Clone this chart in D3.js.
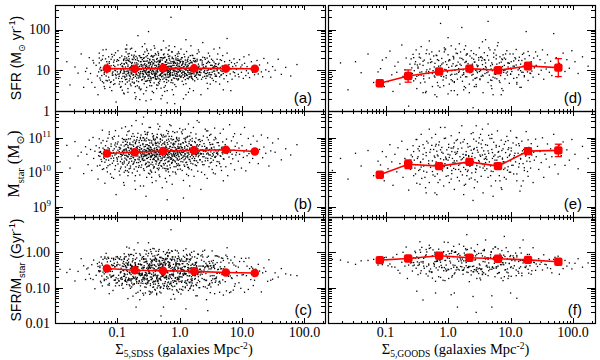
<!DOCTYPE html>
<html><head><meta charset="utf-8">
<script src="https://cdn.jsdelivr.net/npm/d3@7"></script>
<style>body{margin:0;background:#fff}</style>
</head><body>
<svg id="chart" width="600" height="360"></svg>
<script>
// ---------------- DATA ----------------
// Galaxies, values are log10 x 100: "logSigma5 logMstar logSFR"
const sdssGalaxies = `
-192 1030 82, -181 1078 121, -176 1012 64, -168 1089 108, -163 1047 93, -158 1058 140, -154 996 58, -151 1074 97,
-149 1052 105, -147 1022 78, -145 1093 131, -143 1066 92, -141 1005 70, -139 1101 124, -138 1040 118, -136 1061 58, -134 1077 112, -132 1018 86, -131 980 40, -129 1097 142, -128 1046 103, -127 1058 76, -125 1031 100, -124 1122 127, -123 1070 150, -122 1010 69, -121 1055 94, -120 968 55,
-119 1063 106, -118 1036 86, -117 1090 121, -116 1001 74, -115 1071 98, -114 1050 133, -113 1110 117, -112 1022 58, -111 1056 102, -110 1075 127, -109 985 50, -108 1047 93, -107 1096 88, -106 1033 112, -105 1068 137, -104 1008 67, -103 1121 143, -102 1053 81, -101 1042 104, -100 1082 96, -99 1024 90, -98 1105 124, -97 1060 66, -96 992 72, -95 1070 114, -94 1045 100, -93 1128 135, -92 1027 51, -91 1059 108, -91 1087 85, -90 970 44, -118 1054 151, -115 1019 105, -113 1064 76, -110 1040 72, -108 1100 133, -106 1057 120, -104 1079 100, -102 935 22, -100 1038 126, -97 1072 91, -95 1010 97, -93 1051 80, -92 1098 110, -90 1064 124, -94 1015 60,
-89 1066 98, -89 1032 115, -88 1095 133, -88 1049 85, -87 1005 66, -87 1080 104, -86 1057 145, -86 1038 90, -85 1108 117, -85 1062 78, -84 1021 98, -84 1087 125, -83 1046 109, -83 990 55, -82 1071 94, -82 1053 134, -81 1120 128, -81 1030 74, -80 1058 101, -80 1081 86, -79 1012 106, -79 1097 152, -78 1054 91, -78 1040 62, -77 1135 137, -77 1067 112, -76 998 71, -76 1061 119, -75 1088 96, -75 1044 126, -74 1026 82, -74 1075 103, -73 1059 70, -73 1104 130, -72 975 45, -72 1051 95, -71 1083 146, -71 1036 101, -70 1064 89, -70 1016 113, -69 1094 118, -69 1055 81, -68 1003 62, -68 1070 125, -67 1047 106, -67 1113 100, -66 1028 94, -66 1060 72, -65 1086 136, -65 1042 84, -64 992 88, -64 1072 110, -63 1055 121, -63 1101 93, -62 1014 54, -62 1067 102, -61 1050 131, -61 1092 114, -60 1036 77, -60 1059 97, -89 962 42, -87 1132 152, -85 1047 162, -83 1077 46, -81 1010 122, -79 1068 66, -77 1051 108, -75 1112 88, -73 1030 137, -71 950 30, -69 1073 90, -67 1058 185, -65 1019 59, -63 1097 131, -61 1045 110, -64 1062 28, -70 1150 134, -78 1080 99, -82 1000 94, -86 1066 124, -70 1090 35,
-59 1053 106, -59 1080 92, -58 1034 122, -58 1100 129, -57 1005 67, -57 1066 99, -56 1047 83, -56 1118 145, -55 1022 95, -55 1075 111, -54 1052 133, -54 1091 92, -53 985 58, -53 1063 102, -52 1040 75, -52 1109 123, -51 1017 107, -51 1070 86, -50 1055 118, -50 1094 141, -49 1028 89, -49 1077 97, -48 995 62, -48 1064 125, -47 1045 100, -47 1130 118, -46 1023 80, -46 1071 134, -45 1054 92, -45 1085 108, -44 970 48, -44 1049 113, -43 1081 82, -43 1037 126, -42 1062 97, -42 1106 116, -41 1016 69, -41 1068 103, -40 1043 121, -40 1093 88, -39 1000 84, -39 1058 141, -38 1078 112, -38 1033 93, -37 1102 127, -37 1050 78, -36 1011 103, -36 1066 96, -35 1041 63, -35 1087 122, -34 1060 108, -34 1125 137, -33 1025 87, -33 1073 79, -32 1052 119, -32 987 73, -31 1097 98, -31 1046 131, -30 1070 91, -30 1019 105, -60 1140 158, -58 960 42, -56 1059 165, -54 1026 50, -52 1080 148, -50 997 94, -48 1093 74, -46 1048 150, -44 1112 100, -42 1012 45, -40 1064 154, -38 975 78, -36 1100 99, -34 1038 141, -32 1133 121, -30 1054 56, -59 1039 97, -57 1092 114, -55 1061 73, -53 1015 90, -51 1116 129, -49 1051 107, -47 1073 84, -45 1000 96, -43 1103 118, -41 1056 136, -39 1083 93, -37 1030 110, -35 1064 81, -33 992 67, -31 1060 125, -58 1160 139, -54 930 25, -50 1068 195, -46 1043 28, -42 1095 97, -38 1053 104, -34 1020 114, -31 1088 87, -57 1050 122, -53 1099 109, -49 1018 75, -45 1066 136, -41 1037 91, -37 1084 64, -33 1057 113, -55 1110 95, -47 1006 114, -39 1046 84, -35 1140 145, -30 1110 30,
-29 1062 102, -29 1034 85, -28 1093 125, -28 1050 95, -27 1012 78, -27 1083 116, -26 1056 138, -26 1108 106, -25 1021 72, -25 1068 97, -24 1044 114, -24 1103 131, -23 982 62, -23 1060 88, -22 1076 108, -22 1037 120, -21 1121 124, -21 1053 77, -20 1018 100, -20 1086 93, -19 1048 139, -19 1067 109, -18 1001 74, -18 1096 99, -17 1058 117, -17 1032 89, -16 1138 135, -16 1074 84, -15 1042 104, -15 1013 94, -14 1085 121, -14 1054 70, -13 1104 110, -13 1026 105, -12 1064 145, -12 965 52, -11 1050 88, -11 1081 101, -10 1036 81, -10 1095 128, -9 1059 112, -9 1016 96, -8 1115 119, -8 1046 65, -7 1071 98, -7 1000 87, -6 1056 126, -6 1089 107, -5 1025 92, -5 1067 79, -4 1040 115, -4 1117 140, -3 1053 95, -3 1008 76, -2 1082 104, -2 1035 124, -1 1062 86, -1 1099 116, 0 1020 99, 0 1070 109, -30 1165 150, -28 955 38, -26 1070 172, -24 1011 48, -22 1105 155, -20 1052 50, -18 1042 149, -16 990 89, -14 1135 102, -12 1029 132, -10 1059 40, -8 1082 158, -6 995 60, -4 1094 85, -2 1047 145, 0 1127 123, -29 1055 93, -27 1044 105, -25 1085 90, -23 1026 120, -21 1071 100, -19 1010 83, -17 1104 129, -15 1062 110, -13 1038 76, -11 1118 121, -9 1051 99, -7 1030 136, -5 1098 92, -3 1070 128, -1 1019 103, -26 1185 130, -20 920 20, -14 1066 230, -8 1050 18, -2 1091 78, -28 1056 116, -24 1081 132, -18 1032 95, -12 1094 88, -6 1043 104, -1 1073 141, -22 1004 83, -16 1060 97, -10 1079 117, -4 1020 124, -19 1112 108, -11 1034 69, -3 1057 110, -17 1052 150,
1 1055 97, 1 1081 121, 2 1031 83, 2 1075 106, 3 1050 131, 3 1117 112, 4 1005 73, 4 1064 94, 5 1043 118, 5 1086 89, 6 976 65, 6 1058 108, 7 1098 139, 7 1036 96, 8 1070 85, 8 1017 103, 9 1125 125, 9 1053 113, 10 1028 67, 10 1087 100, 11 1064 146, 11 994 88, 12 1102 109, 12 1046 80, 13 1075 121, 13 1014 95, 14 1056 104, 14 1140 132, 15 1037 90, 15 1083 116, 16 960 55, 16 1066 100, 17 1094 93, 17 1032 124, 18 1060 84, 18 1115 119, 19 1007 107, 19 1071 92, 20 1050 137, 20 1090 103, 21 1024 77, 21 1074 110, 22 1053 96, 22 1130 123, 23 988 91, 23 1062 114, 24 1040 74, 24 1089 129, 25 1066 100, 25 1021 86, 26 1099 108, 26 1052 121, 27 1033 95, 27 1076 82, 28 1058 141, 28 1150 127, 29 1003 98, 29 1068 105, 30 1045 89, 30 1094 115, 2 1170 152, 6 925 30, 10 1065 175, 14 990 46, 18 1078 160, 22 1045 50, 26 1111 88, 30 1056 150, 4 1071 122, 8 1047 88, 12 1022 113, 16 1105 102, 20 1055 80, 24 1034 121, 28 1080 94, 3 1059 106, 9 1090 92, 15 1010 83, 21 1069 136, 27 1051 110, 5 1123 116, 13 1042 99, 19 1078 85, 25 1053 124, 29 1028 78, 10 1100 40,
31 1060 103, 32 1036 88, 33 1089 125, 34 1052 94, 35 1000 78, 36 1075 113, 37 1045 132, 38 1105 108, 39 1022 96, 40 1062 85, 41 1125 127, 42 1041 110, 43 1071 92, 44 982 68, 45 1056 119, 46 1094 101, 47 1016 90, 48 1066 135, 49 1050 83, 50 1110 112, 51 1029 104, 52 1081 95, 53 1054 124, 54 998 75, 55 1073 107, 56 1044 98, 57 1101 116, 58 1062 88, 59 1019 109, 60 1086 127, 31 1145 145, 34 950 40, 37 1065 168, 40 993 99, 43 1120 86, 46 1053 142, 49 1080 66, 52 1008 112, 55 1094 152, 58 1046 72, 33 1055 101, 36 1030 123, 39 1083 106, 42 1060 80, 45 1034 94, 48 1107 119, 51 1069 89, 54 1050 108, 57 995 85, 60 1058 99, 32 1095 95, 38 1053 114, 44 1070 130, 50 1040 102, 56 1128 111, 45 1120 55,
61 1055 106, 62 1086 94, 63 1030 117, 64 1066 84, 65 1113 126, 66 1046 99, 67 1005 89, 68 1073 110, 69 1053 136, 70 1125 104, 71 1038 79, 72 1062 121, 73 1080 97, 74 1016 108, 75 1096 87, 76 1054 142, 77 990 72, 78 1068 100, 79 1044 114, 80 1138 124, 81 1058 91, 82 1025 103, 83 1091 119, 84 1052 78, 85 1039 109, 86 1103 96, 87 1064 128, 88 1007 94, 89 1075 86, 90 1050 111, 64 1168 155, 70 975 52, 76 1065 178, 82 1062 50, 88 1112 116,
91 1057 102, 92 1085 119, 94 1032 90, 95 1070 84, 96 1052 126, 98 1110 108, 99 1012 95, 100 1077 113, 102 1043 80, 103 1059 133, 104 1130 117, 106 1004 87, 107 1065 99, 108 1048 109, 110 1098 93, 111 1054 138, 112 1028 82, 114 1081 104, 115 1062 121, 117 1040 95, 118 1105 111, 120 1068 89,
122 1053 105, 124 1090 124, 126 1025 91, 128 1066 113, 131 1108 96, 133 1042 84, 135 1073 129, 138 1055 101, 141 1100 118, 143 1018 97, 146 1062 83, 149 1085 109,
153 1058 100, 158 1097 127, 163 1036 90, 170 1068 107, 178 1050 86, 188 1080 114
`;
const sdssGalaxiesCore = `
-130 1048 96, -129 1071 118, -128 1020 81, -127 1060 107, -126 1085 99, -126 1037 124, -125 1054 87, -124 1008 72, -123 1092 136, -122 1044 101, -121 1066 90, -120 1029 112, -119 1077 128, -118 1052 75, -117 1013 94, -116 1058 115, -115 1099 107, -114 1035 83, -113 1068 121, -112 1047 98, -111 995 70, -110 1082 111, -109 1056 139, -108 1026 88, -107 1063 96, -106 1041 76, -105 1104 125, -104 1050 109, -103 1019 99, -102 1074 87, -101 1058 122, -100 1032 104, -99 1088 113, -98 1045 80, -97 1003 85, -96 1067 131, -95 1052 94, -94 1079 103, -93 1038 117, -92 1061 72, -91 1023 92, -90 1095 127, -129 1058 130, -121 1040 60, -113 1117 100, -106 982 65, -99 1064 148, -95 1031 58, -92 1049 110, -103 1085 90,
-90 1053 101, -89 1076 116, -89 1027 93, -88 1062 82, -88 1041 128, -87 1090 108, -87 1015 77, -86 1068 97, -86 1049 119, -85 1035 86, -85 1081 130, -84 1058 104, -84 1004 71, -83 1072 92, -83 1044 113, -82 1097 124, -82 1026 98, -81 1063 88, -81 1051 141, -80 1039 79, -80 1085 106, -79 1057 120, -79 1018 84, -78 1070 95, -78 1046 109, -77 1104 117, -77 1032 92, -76 1066 127, -76 1053 78, -75 1023 100, -75 1079 111, -74 1060 89, -74 1042 133, -73 1093 103, -73 1009 68, -72 1064 118, -72 1036 96, -71 1055 85, -71 1086 126, -70 1047 107, -70 1071 93, -69 1028 112, -69 1061 74, -68 1101 130, -68 1052 99, -67 1038 87, -67 1075 115, -66 1057 123, -66 1014 81, -65 1066 102, -65 1092 109, -64 1044 91, -64 1059 135, -63 1031 97, -63 1078 83, -62 1050 114, -62 1108 121, -61 1021 76, -61 1068 104, -60 1056 92, -60 1040 126, -59 1083 111, -59 1062 86, -58 1045 101, -58 1010 90, -57 1074 131, -57 1053 79, -56 1035 116, -56 1096 98, -55 1064 107, -55 1048 84, -54 1025 99, -54 1080 122, -53 1058 113, -53 1040 73, -52 1069 95, -52 1114 136, -51 1052 104, -51 1030 88, -50 1077 118, -50 1061 80, -89 1000 96, -83 1118 140, -77 1060 154, -71 990 60, -65 1036 56, -59 1100 84, -53 1048 152, -85 1095 152, -63 960 52,
-50 1043 97, -49 1066 111, -49 1020 86, -48 1085 127, -48 1054 94, -47 1037 118, -47 1072 102, -46 1058 81, -46 1003 76, -45 1091 121, -45 1046 108, -44 1064 90, -44 1029 104, -43 1078 134, -43 1051 99, -42 1040 82, -42 1099 117, -41 1060 125, -41 1015 93, -40 1070 87, -40 1049 112, -39 1033 79, -39 1087 106, -38 1057 138, -38 1024 98, -37 1065 91, -37 1045 120, -36 1110 129, -36 1052 85, -35 1036 103, -35 1076 96, -34 1059 115, -34 1007 70, -33 1083 109, -33 1047 124, -32 1063 88, -32 1028 101, -31 1095 122, -31 1054 77, -30 1041 110, -30 1068 99, -29 1017 84, -29 1079 131, -28 1059 93, -28 1039 116, -27 1102 113, -27 1050 86, -26 1071 105, -26 1025 96, -25 1062 140, -25 1044 81, -24 1088 100, -24 1034 107, -23 1057 121, -23 1073 90, -22 1010 78, -22 1053 98, -21 1066 114, -21 1093 126, -20 1042 89, -20 1060 103, -19 1030 118, -19 1081 95, -18 1056 83, -18 1118 134, -17 1045 110, -17 1069 102, -16 1021 92, -16 1058 125, -15 1075 87, -15 1038 99, -14 1063 117, -14 1097 108, -13 1050 76, -13 1027 104, -12 1072 129, -12 1046 94, -11 1001 88, -11 1061 112, -10 1084 99, -10 1054 120, -49 1130 120, -45 985 62, -41 1050 160, -37 1071 55, -33 1012 120, -29 1106 150, -25 1052 58, -21 972 70, -17 1090 160, -13 1041 145, -47 1064 70, -43 1021 132, -39 1096 89, -35 1052 105, -31 1033 90, -27 1067 130, -23 1048 113, -19 1008 98, -15 1061 91,
-9 1047 103, -9 1073 122, -8 1033 91, -8 1061 80, -7 1089 117, -7 1054 106, -6 1016 85, -6 1066 130, -5 1049 97, -5 1101 112, -4 1060 89, -4 1036 118, -3 1075 101, -3 1052 134, -2 1024 79, -2 1069 96, -1 1045 110, -1 1093 125, 0 1058 88, 0 1038 103, 1 1064 119, 1 1009 84, 2 1082 100, 2 1051 127, 3 1040 93, 3 1071 86, 4 1057 114, 4 1112 131, 5 1030 98, 5 1066 105, 6 1047 82, 6 1085 121, 7 1060 109, 7 1021 95, 8 1074 133, 8 1053 92, 9 1039 77, 9 1096 115, 10 1062 102, 10 1044 119, 11 1078 90, 11 1029 108, 12 1056 124, 12 1067 87, 13 1048 99, 13 1104 127, 14 1014 79, 14 1063 111, 15 1052 94, 15 1089 105, 16 1037 117, 16 1070 84, 17 1058 136, 17 1045 100, 18 1080 96, 18 1026 89, 19 1064 120, 19 1050 81, 20 1098 118, 20 1040 106, 21 1057 92, 22 1073 129, 23 1034 97, 24 1061 85, 25 1086 112, 26 1047 102, 27 1019 91, 28 1068 123, 29 1054 94, 30 1076 107,
31 1049 110, 32 1080 97, 33 1036 88, 34 1065 126, 35 1054 101, 36 1092 118, 37 1022 83, 38 1061 105, 39 1045 95, 40 1075 131, 41 1033 92, 42 1068 108, 43 1053 117, 44 1101 99, 45 1040 86, 46 1063 122, 47 1050 103, 48 1086 94, 49 1027 89, 50 1059 112, 51 1071 127, 52 1046 80, 53 1081 106, 54 1035 98, 55 1058 120, 56 1066 91, 57 1043 109, 58 1097 116, 59 1055 85, 60 1031 102, 62 1062 114, 63 1077 93, 65 1048 107, 66 1016 88, 67 1070 124, 68 1057 97, 69 1088 110, 70 1039 92, 61 1051 140, 64 1025 66
`;

const goodsGalaxies = `
-185 1005 85, -172 1040 118, -160 980 52, -148 1055 121, -139 1018 94, -128 1063 140, -119 990 70, -112 1032 96,
-108 1021 104, -105 1060 125, -102 975 60, -99 1045 131, -96 1010 72, -93 1080 147, -90 1030 89, -88 962 48, -85 1052 110, -82 1001 95, -80 1071 120, -77 1025 66, -74 1090 162, -72 985 85, -69 1040 101, -67 1015 130, -65 1066 92, -63 948 12, -61 1035 115, -60 1008 78,
-59 1050 128, -58 1012 83, -56 1077 139, -55 990 74, -54 1035 99, -52 1022 121, -51 1095 150, -50 968 55, -48 1045 108, -47 1005 88, -46 1062 132, -44 1028 69, -43 1110 158, -42 982 96, -40 1038 112, -39 1018 79, -38 1070 125, -36 955 45, -35 1048 141, -34 1000 101, -32 1085 118, -31 1025 92, -30 970 81, -29 1058 103, -28 1014 127, -26 1100 145, -25 1033 60, -24 992 99, -23 1066 135, -22 1020 86, -21 940 40, -21 1043 117, -20 1076 94, -30 1125 172, -45 1008 115, -40 1080 45,
-19 1030 104, -18 1061 136, -17 995 70, -16 1047 97, -15 1015 124, -14 1088 147, -13 978 58, -12 1039 111, -11 1022 85, -10 1072 129, -9 1004 93, -8 1055 76, -7 960 62, -6 1098 155, -5 1025 102, -4 1044 121, -3 988 81, -2 1065 114, -1 1012 96, 0 1035 138, 1 1081 107, 2 970 66, 3 1050 125, 4 1018 88, 5 1106 160, 6 996 99, 7 1040 74, 8 1028 116, 9 1074 132, 10 950 50, 11 1058 100, 12 1008 110, 13 1092 142, 14 1033 91, 15 985 78, 16 1068 120, 17 1020 95, 18 1115 165, 19 1045 130, 20 1002 83, -18 935 35, -12 1130 215, -6 1016 145, 0 990 42, 6 1060 90, 12 1052 152, 18 975 98, -15 1079 110, -3 1037 101, 9 1011 128, 15 1095 40, 5 1070 50,
21 1036 112, 22 1070 129, 23 992 73, 24 1052 101, 25 1014 90, 26 1095 151, 27 1027 119, 28 965 57, 29 1060 122, 30 1040 84, 31 1083 140, 32 1006 97, 33 1048 108, 34 980 66, 35 1075 135, 36 1021 103, 37 1112 148, 38 998 88, 39 1055 115, 40 1031 76, 41 1066 127, 42 955 60, 43 1042 120, 44 1010 100, 45 1090 138, 46 1025 82, 47 972 94, 48 1058 111, 49 1034 131, 50 1100 155, 51 1015 79, 52 1046 99, 53 988 85, 54 1071 124, 55 1024 114, 56 940 45, 57 1062 104, 58 1038 143, 59 1005 92, 60 1080 118, 22 1135 205, 28 1050 160, 34 1028 45, 40 918 8, 46 1072 98, 52 1110 132, 58 1018 126, 25 1043 94, 31 1002 110, 37 1064 112, 43 978 80, 49 1085 125, 55 1050 88, 29 1030 137, 45 1135 65,
61 1045 106, 62 1010 94, 63 1078 136, 64 985 70, 65 1055 125, 66 1030 88, 67 1098 150, 68 1018 111, 69 960 62, 70 1066 118, 71 1040 99, 72 1002 83, 73 1087 142, 74 1026 105, 75 1050 81, 76 975 90, 77 1073 128, 78 1035 115, 79 1120 160, 80 1012 96, 81 1060 102, 82 990 74, 83 1046 133, 84 1022 87, 85 1093 120, 86 950 55, 87 1038 109, 88 1068 138, 89 1008 100, 90 1081 112, 91 1029 79, 92 1057 127, 93 980 93, 94 1104 148, 95 1043 96, 96 1016 118, 97 1071 104, 98 1000 68, 99 1052 140, 100 1033 90, 64 1140 220, 72 930 40, 80 1058 168, 88 1030 50, 96 1092 118, 70 1110 55,
101 1062 121, 102 1020 97, 104 1085 140, 105 995 80, 106 1048 110, 108 1030 128, 109 1101 151, 110 975 66, 112 1055 101, 113 1015 89, 114 1077 132, 116 1038 115, 117 960 58, 118 1090 124, 120 1025 95, 121 1066 142, 122 1005 84, 124 1047 104, 125 1118 195, 126 1032 118, 128 988 75, 129 1072 113, 130 1042 136, 132 1012 92, 133 1083 121, 134 1050 98, 136 970 83, 137 1058 130, 138 1035 106, 140 1096 145, 110 1100 70,
141 1045 112, 143 1075 135, 145 1008 90, 147 1060 126, 149 1028 100, 151 1100 150, 153 985 78, 155 1052 118, 157 1038 103, 159 1082 138, 162 1015 95, 164 1068 122, 166 1045 87, 169 1110 190, 171 1022 108, 173 1062 131, 176 995 84, 178 1079 117,
181 1048 113, 184 1088 142, 187 1020 97, 190 1065 126, 194 1035 105, 198 1095 148, 203 1052 121, 208 1010 92, 215 1075 133, 224 1040 110
`;
const goodsGalaxiesCore = `
-58 1028 106, -55 1060 131, -52 995 79, -49 1040 113, -46 1075 140, -43 1015 88, -40 1052 122, -37 985 71, -34 1090 150, -31 1033 97, -28 1066 119, -25 1002 92, -22 1047 108, -19 1081 137, -16 970 62, -13 1024 101, -10 1058 115, -7 1036 84, -4 1099 152, -1 1012 98, 2 1043 126, 5 980 77, 8 1070 134, 11 1027 90, 14 1055 112, 17 1008 104, 20 1085 145, 23 1039 88, 26 962 60, 29 1050 121, 32 1073 116, 35 1017 94, 38 1046 130, 41 1096 141, 44 1000 80, 47 1064 109, 50 1030 97, 53 1082 133, 56 1012 86, 59 1052 125, 62 1037 100, 65 1107 155, 68 990 76, 71 1057 114, 74 1022 91, 77 1078 137, 80 1044 105, 83 975 70, 86 1063 128, 89 1030 95, 92 1089 140, 95 1006 88, 98 1048 117, 101 1070 102, 104 1020 110, 107 1055 131, 110 995 82, 113 1083 124, 116 1040 99, 119 1062 139, 122 1013 87, 125 1050 111, 128 1094 146, 131 1031 93,
-57 1045 92, -53 1012 115, -48 1068 105, -44 1030 130, -39 1003 86, -35 1057 96, -30 1020 140, -26 1078 121, -21 988 83, -17 1050 126, -12 1065 94, -8 1018 118, -3 1040 87, 1 1072 123, 6 1005 110, 10 1033 72, 15 1060 141, 19 1024 115, 24 1088 126, 28 1008 84, 33 1045 102, 37 983 95, 42 1069 120, 46 1019 113, 51 1050 77, 55 1093 130, 60 1028 109, 64 1062 96, 69 1003 103, 73 1046 132, 78 1020 79, 82 1075 118, 87 1041 126, 91 1012 100, 96 1066 108, 100 1000 91, 105 1042 123, 109 1079 113, 114 1025 104, 118 1054 95, 123 1070 128, 127 1002 96,
-50 1095 85, -20 1110 95, 10 1085 70, 40 1115 90, 70 1098 75, 100 1120 105, -35 940 48, 25 935 52, 85 955 40, 115 945 58, -5 1130 150, 55 1125 170, 0 1052 180, 60 1040 175, 30 990 140, 90 985 130, -45 965 95, 120 975 110, 45 1008 60, 75 1035 150
`;

// Binned medians (red lines)
const sdssBins      = [0.068, 0.19, 0.54, 1.70, 5.5, 16];
const sdssSFRMed    = [11.0, 10.9, 11.3, 11.1, 11.0, 10.9];
const sdssMstarMed  = [3.5e10, 3.8e10, 4.1e10, 4.3e10, 4.5e10, 4.0e10];
const sdssSSFRMed   = [0.35, 0.31, 0.30, 0.29, 0.27, 0.26];

const goodsBins     = [0.081, 0.23, 0.72, 2.2, 6.3, 19, 58];
const goodsSFRMed   = [4.8, 7.2, 9.3, 11.0, 10.0, 12.7, 11.6];
const goodsSFRLo    = [4.0, 5.1, 8.3, 9.8, 8.9, 10.3, 7.0];
const goodsSFRHi    = [5.8, 10.2, 10.4, 12.3, 11.2, 15.6, 19.3];
const goodsMstarMed = [8.4e9, 1.7e10, 1.5e10, 2.0e10, 1.5e10, 4.1e10, 4.3e10];
const goodsMstarLo  = [7.3e9, 1.27e10, 1.31e10, 1.63e10, 1.31e10, 3.33e10, 2.84e10];
const goodsMstarHi  = [9.6e9, 2.27e10, 1.72e10, 2.46e10, 1.72e10, 5.04e10, 6.51e10];
const goodsSSFRMed  = [0.60, 0.67, 0.80, 0.70, 0.66, 0.61, 0.54];
const goodsSSFRLo   = [0.55, 0.61, 0.73, 0.64, 0.60, 0.56, 0.48];
const goodsSSFRHi   = [0.65, 0.73, 0.88, 0.77, 0.72, 0.67, 0.61];

// Axis tick labels
const xTickValues   = [0.1, 1, 10, 100];
const xTickLabels   = ["0.1", "1.0", "10.0", "100.0"];
const sfrTickValues = [1, 10, 100];
const sfrTickLabels = ["1", "10", "100"];
const mstarTickValues = [1e9, 1e10, 1e11];
const mstarTickExps   = ["9", "10", "11"];
const ssfrTickValues = [0.01, 0.1, 1];
const ssfrTickLabels = ["0.01", "0.10", "1.00"];
const panelLetters = [["(a)", "(d)"], ["(b)", "(e)"], ["(c)", "(f)"]];

// ---------------- PARSE ----------------
function parseGalaxies(str) {
  return str.split(",").map(s => s.trim()).filter(s => s.length)
    .map(s => s.split(/\s+/).map(v => Math.pow(10, +v / 100)));
}
const sdss = parseGalaxies(sdssGalaxies + "," + sdssGalaxiesCore);
const goods = parseGalaxies(goodsGalaxies + "," + goodsGalaxiesCore);
const sdssSigma = sdss.map(d => d[0]), sdssMstar = sdss.map(d => d[1]), sdssSFR = sdss.map(d => d[2]);
const sdssSSFR = sdss.map(d => d[2] / d[1] * 1e9);
const goodsSigma = goods.map(d => d[0]), goodsMstar = goods.map(d => d[1]), goodsSFR = goods.map(d => d[2]);
const goodsSSFR = goods.map(d => d[2] / d[1] * 1e9);

// ---------------- LAYOUT ----------------
const SERIF = "'Liberation Serif','Times New Roman','DejaVu Serif',serif";
const SANS = "'Liberation Sans',Arial,'DejaVu Sans',sans-serif";
const RED = "#ff0000";
const svg = d3.select("#chart");

const cols = [
  { x0: 55, x1: 325, dom: [0.01, Math.pow(10, 2.33)], sigma: sdssSigma, bins: sdssBins, sub: "5,SDSS", marker: "circle" },
  { x0: 328, x1: 595, dom: [Math.pow(10, -1.92), Math.pow(10, 2.35)], sigma: goodsSigma, bins: goodsBins, sub: "5,GOODS", marker: "square" }
];
const rows = [
  { y0: 5, y1: 111, dom: [1, 400], vals: [sdssSFR, goodsSFR],
    med: [sdssSFRMed, goodsSFRMed], lo: [null, goodsSFRLo], hi: [null, goodsSFRHi] },
  { y0: 111, y1: 217, dom: [5e8, 6e11], vals: [sdssMstar, goodsMstar],
    med: [sdssMstarMed, goodsMstarMed], lo: [null, goodsMstarLo], hi: [null, goodsMstarHi] },
  { y0: 217, y1: 323, dom: [0.01, 10], vals: [sdssSSFR, goodsSSFR],
    med: [sdssSSFRMed, goodsSSFRMed], lo: [null, goodsSSFRLo], hi: [null, goodsSSFRHi] }
];

function logTicks(dom) {
  const out = { major: [], minor: [] };
  const lo = Math.floor(Math.log10(dom[0])), hi = Math.ceil(Math.log10(dom[1]));
  for (let k = lo; k <= hi; k++) {
    for (let m = 1; m <= 9; m++) {
      const v = m * Math.pow(10, k);
      if (v >= dom[0] * 0.9999 && v <= dom[1] * 1.0001) (m === 1 ? out.major : out.minor).push(v);
    }
  }
  return out;
}

function rich(sel, parts, size, subShift, supShift) {
  let shift = 0;
  parts.forEach(p => {
    const [t, mode, fam] = p;
    const target = mode === 1 ? size * (subShift || 0.3) : mode === 2 ? -size * (supShift || 0.42) : 0;
    const ts = sel.append("tspan").text(t).attr("dy", target - shift)
      .attr("font-size", mode ? size * 0.66 : size);
    if (fam) ts.attr("font-family", fam);
    shift = target;
  });
}

const defs = svg.append("defs");

rows.forEach((row, ri) => {
  cols.forEach((col, ci) => {
    const xs = d3.scaleLog().domain(col.dom).range([col.x0, col.x1]);
    const ys = d3.scaleLog().domain(row.dom).range([row.y1, row.y0]);
    const id = `clip${ri}${ci}`;
    defs.append("clipPath").attr("id", id).append("rect")
      .attr("x", col.x0).attr("y", row.y0).attr("width", col.x1 - col.x0).attr("height", row.y1 - row.y0);
    const g = svg.append("g");

    // scatter
    const vals = row.vals[ci];
    g.append("g").attr("clip-path", `url(#${id})`).selectAll("rect")
      .data(col.sigma.map((s, i) => [s, vals[i]]))
      .join("rect")
      .attr("x", d => xs(d[0]) - 0.65).attr("y", d => ys(d[1]) - 0.65)
      .attr("width", 1.3).attr("height", 1.3).attr("fill", "#000");

    // red median line
    const med = row.med[ci];
    const pts = col.bins.map((b, i) => [b, med[i], row.lo[ci] ? row.lo[ci][i] : null, row.hi[ci] ? row.hi[ci][i] : null]);
    g.append("path").datum(pts)
      .attr("d", d3.line().x(d => xs(d[0])).y(d => ys(d[1])))
      .attr("fill", "none").attr("stroke", RED).attr("stroke-width", 1.6);
    if (row.lo[ci]) {
      const eb = g.append("g").attr("stroke", RED).attr("stroke-width", 1.3);
      pts.forEach(d => {
        const x = xs(d[0]);
        eb.append("line").attr("x1", x).attr("x2", x).attr("y1", ys(d[2])).attr("y2", ys(d[3]));
        eb.append("line").attr("x1", x - 3.5).attr("x2", x + 3.5).attr("y1", ys(d[2])).attr("y2", ys(d[2]));
        eb.append("line").attr("x1", x - 3.5).attr("x2", x + 3.5).attr("y1", ys(d[3])).attr("y2", ys(d[3]));
      });
    }
    if (col.marker === "circle") {
      g.selectAll("circle.m").data(pts).join("circle").attr("class", "m")
        .attr("cx", d => xs(d[0])).attr("cy", d => ys(d[1])).attr("r", 4.3).attr("fill", RED);
    } else {
      g.selectAll("rect.m").data(pts).join("rect").attr("class", "m")
        .attr("x", d => xs(d[0]) - 4.2).attr("y", d => ys(d[1]) - 4.2)
        .attr("width", 8.4).attr("height", 8.4).attr("rx", 2).attr("fill", RED);
    }

    // ticks
    const tg = g.append("g").attr("stroke", "#000").attr("stroke-width", 1).attr("shape-rendering", "crispEdges");
    const xt = logTicks(col.dom);
    [[xt.major, 5], [xt.minor, 2.5]].forEach(([arr, len]) => arr.forEach(v => {
      const x = Math.round(xs(v)) + 0.5;
      tg.append("line").attr("x1", x).attr("x2", x).attr("y1", row.y1).attr("y2", row.y1 - len);
      tg.append("line").attr("x1", x).attr("x2", x).attr("y1", row.y0).attr("y2", row.y0 + len);
    }));
    const yt = logTicks(row.dom);
    [[yt.major, 8], [yt.minor, 4]].forEach(([arr, len]) => arr.forEach(v => {
      const y = Math.round(ys(v)) + 0.5;
      tg.append("line").attr("y1", y).attr("y2", y).attr("x1", col.x0).attr("x2", col.x0 + len);
      tg.append("line").attr("y1", y).attr("y2", y).attr("x1", col.x1).attr("x2", col.x1 - len);
    }));

    // frame
    g.append("rect").attr("x", col.x0 + 0.5).attr("y", row.y0 + 0.5)
      .attr("width", col.x1 - col.x0).attr("height", row.y1 - row.y0)
      .attr("fill", "none").attr("stroke", "#000").attr("stroke-width", 1.2);

    // panel letter
    g.append("text").attr("x", col.x1 - 13).attr("y", row.y1 - 8).attr("text-anchor", "end")
      .attr("font-family", SANS).attr("font-size", 15).text(panelLetters[ri][ci]);

    // y tick labels (left column only)
    if (ci === 0) {
      if (ri === 0) {
        sfrTickValues.forEach((v, i) => g.append("text").attr("x", col.x0 - 5).attr("y", ys(v)).attr("dy", "0.35em")
          .attr("text-anchor", "end").attr("font-family", SERIF).attr("font-size", 14).text(sfrTickLabels[i]));
      } else if (ri === 1) {
        mstarTickValues.forEach((v, i) => {
          const t = g.append("text").attr("x", col.x0 - 4).attr("y", ys(v) + 5)
            .attr("text-anchor", "end").attr("font-family", SERIF).attr("font-size", 14);
          t.append("tspan").text("10");
          t.append("tspan").attr("dy", -6).attr("font-size", 9).text(mstarTickExps[i]);
        });
      } else {
        ssfrTickValues.forEach((v, i) => g.append("text").attr("x", col.x0 - 5).attr("y", ys(v)).attr("dy", "0.35em")
          .attr("text-anchor", "end").attr("font-family", SERIF).attr("font-size", 14).text(ssfrTickLabels[i]));
      }
    }
    // x tick labels + title (bottom row)
    if (ri === 2) {
      xTickValues.forEach((v, i) => g.append("text").attr("x", xs(v)).attr("y", 337)
        .attr("text-anchor", "middle").attr("font-family", SERIF).attr("font-size", 14).text(xTickLabels[i]));
      const t = g.append("text").attr("x", (col.x0 + col.x1) / 2 - 6).attr("y", 354)
        .attr("text-anchor", "middle").attr("font-family", SERIF);
      rich(t, [["\u03A3", 0], [col.sub, 1], [" (galaxies Mpc", 0], ["-2", 2], [")", 0]], 14.5, 0.2, 0.34);
    }
  });
});

// y-axis titles
const yTitles = [
  { x: 21, parts: [["SFR (M", 0], ["\u2299", 1, "'DejaVu Sans'"], [" yr", 0], ["-1", 2], [")", 0]], size: 14, fam: SANS },
  { x: 19, parts: [["M", 0], ["star", 1], [" (M", 0], ["\u2299", 1, "'DejaVu Sans'"], [")", 0]], size: 16, fam: SERIF },
  { x: 21, parts: [["SFR/M", 0], ["star", 1], [" (Gyr", 0], ["-1", 2], [")", 0]], size: 14, fam: SANS }
];
yTitles.forEach((yt, i) => {
  const row = rows[i];
  const t = svg.append("text")
    .attr("transform", `translate(${yt.x},${(row.y0 + row.y1) / 2}) rotate(-90)`)
    .attr("text-anchor", "middle").attr("font-family", yt.fam);
  rich(t, yt.parts, yt.size);
});
</script>
</body></html>
